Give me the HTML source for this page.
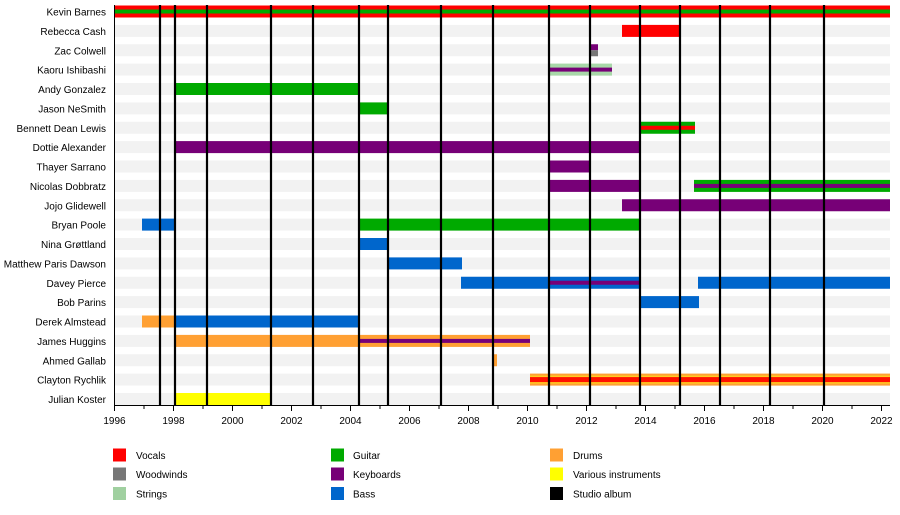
<!DOCTYPE html>
<html><head><meta charset="utf-8"><style>
html,body{margin:0;padding:0;background:#fff;}
svg{display:block;font-family:"Liberation Sans",sans-serif;font-size:10px;}
</style></head><body>
<svg width="900" height="515" viewBox="0 0 900 515" xmlns="http://www.w3.org/2000/svg">
<g fill="#f2f2f2">
<rect x="115" y="5.5" width="775" height="12"/><rect x="115" y="24.9" width="775" height="12"/><rect x="115" y="44.25" width="775" height="12"/><rect x="115" y="63.6" width="775" height="12"/><rect x="115" y="83" width="775" height="12"/><rect x="115" y="102.4" width="775" height="12"/><rect x="115" y="121.75" width="775" height="12"/><rect x="115" y="141.1" width="775" height="12"/><rect x="115" y="160.5" width="775" height="12"/><rect x="115" y="179.9" width="775" height="12"/><rect x="115" y="199.25" width="775" height="12"/><rect x="115" y="218.6" width="775" height="12"/><rect x="115" y="238" width="775" height="12"/><rect x="115" y="257.4" width="775" height="12"/><rect x="115" y="276.75" width="775" height="12"/><rect x="115" y="296.1" width="775" height="12"/><rect x="115" y="315.5" width="775" height="12"/><rect x="115" y="334.9" width="775" height="12"/><rect x="115" y="354.25" width="775" height="12"/><rect x="115" y="373.6" width="775" height="12"/><rect x="115" y="393" width="775" height="12"/>
</g>
<g text-anchor="end" fill="#000">
<text x="106" y="15.5">Kevin Barnes</text><text x="106" y="34.9">Rebecca Cash</text><text x="106" y="54.25">Zac Colwell</text><text x="106" y="73.6">Kaoru Ishibashi</text><text x="106" y="93">Andy Gonzalez</text><text x="106" y="112.4">Jason NeSmith</text><text x="106" y="131.75">Bennett Dean Lewis</text><text x="106" y="151.1">Dottie Alexander</text><text x="106" y="170.5">Thayer Sarrano</text><text x="106" y="189.9">Nicolas Dobbratz</text><text x="106" y="209.25">Jojo Glidewell</text><text x="106" y="228.6">Bryan Poole</text><text x="106" y="248">Nina Grøttland</text><text x="106" y="267.4">Matthew Paris Dawson</text><text x="106" y="286.75">Davey Pierce</text><text x="106" y="306.1">Bob Parins</text><text x="106" y="325.5">Derek Almstead</text><text x="106" y="344.9">James Huggins</text><text x="106" y="364.25">Ahmed Gallab</text><text x="106" y="383.6">Clayton Rychlik</text><text x="106" y="403">Julian Koster</text>
</g>
<rect x="115" y="5.5" width="775" height="12" fill="#ff0000"/><rect x="115" y="9.5" width="775" height="4" fill="#00aa00"/>
<rect x="622" y="24.9" width="58" height="12" fill="#ff0000"/>
<rect x="590" y="44.25" width="8" height="6" fill="#770077"/><rect x="590" y="50.25" width="8" height="6" fill="#777"/>
<rect x="549" y="63.6" width="63" height="12" fill="#a8d8a8"/><rect x="549" y="67.6" width="63" height="4" fill="#770077"/>
<rect x="175" y="83" width="183" height="12" fill="#00aa00"/>
<rect x="358" y="102.4" width="30" height="12" fill="#00aa00"/>
<rect x="640" y="121.75" width="55" height="12" fill="#00aa00"/><rect x="640" y="125.75" width="55" height="4" fill="#ff0000"/>
<rect x="175" y="141.1" width="465" height="12" fill="#770077"/>
<rect x="549" y="160.5" width="41" height="12" fill="#770077"/>
<rect x="549" y="179.9" width="91" height="12" fill="#770077"/>
<rect x="694" y="179.9" width="196" height="12" fill="#00aa00"/><rect x="694" y="183.9" width="196" height="4" fill="#770077"/>
<rect x="622" y="199.25" width="268" height="12" fill="#770077"/>
<rect x="142" y="218.6" width="33" height="12" fill="#0066cc"/><rect x="358" y="218.6" width="282" height="12" fill="#00aa00"/>
<rect x="358" y="238" width="30" height="12" fill="#0066cc"/>
<rect x="388" y="257.4" width="74" height="12" fill="#0066cc"/>
<rect x="461" y="276.75" width="179" height="12" fill="#0066cc"/><rect x="549" y="280.75" width="91" height="4" fill="#770077"/><rect x="698" y="276.75" width="192" height="12" fill="#0066cc"/>
<rect x="640" y="296.1" width="59" height="12" fill="#0066cc"/>
<rect x="142" y="315.5" width="33" height="12" fill="#ffa033"/><rect x="175" y="315.5" width="183" height="12" fill="#0066cc"/>
<rect x="175" y="334.9" width="355" height="12" fill="#ffa033"/><rect x="358" y="338.9" width="172" height="4" fill="#770077"/>
<rect x="493" y="354.25" width="4" height="12" fill="#ffa033"/>
<rect x="530" y="373.6" width="360" height="12" fill="#ffa033"/><rect x="530" y="375.6" width="360" height="8" fill="#ffcc22"/><rect x="530" y="377.1" width="360" height="5" fill="#ff1100"/>
<rect x="175" y="393" width="97" height="12" fill="#ffff00"/>
<g stroke="#000" stroke-width="2.2">
<line x1="160" y1="5" x2="160" y2="405"/><line x1="175" y1="5" x2="175" y2="405"/><line x1="207" y1="5" x2="207" y2="405"/><line x1="271" y1="5" x2="271" y2="405"/><line x1="313" y1="5" x2="313" y2="405"/><line x1="359" y1="5" x2="359" y2="405"/><line x1="388" y1="5" x2="388" y2="405"/><line x1="441" y1="5" x2="441" y2="405"/><line x1="493" y1="5" x2="493" y2="405"/><line x1="549" y1="5" x2="549" y2="405"/><line x1="590" y1="5" x2="590" y2="405"/><line x1="640" y1="5" x2="640" y2="405"/><line x1="680" y1="5" x2="680" y2="405"/><line x1="720" y1="5" x2="720" y2="405"/><line x1="770" y1="5" x2="770" y2="405"/><line x1="824" y1="5" x2="824" y2="405"/>
</g>
<g stroke="#000" stroke-width="1">
<line x1="114.5" y1="5" x2="114.5" y2="406"/><line x1="114" y1="405.5" x2="890" y2="405.5"/>
<line x1="114.5" y1="405" x2="114.5" y2="411"/><line x1="144" y1="405" x2="144" y2="409"/><line x1="173.5" y1="405" x2="173.5" y2="411"/><line x1="203" y1="405" x2="203" y2="409"/><line x1="232.5" y1="405" x2="232.5" y2="411"/><line x1="262" y1="405" x2="262" y2="409"/><line x1="291.5" y1="405" x2="291.5" y2="411"/><line x1="321" y1="405" x2="321" y2="409"/><line x1="350.5" y1="405" x2="350.5" y2="411"/><line x1="380" y1="405" x2="380" y2="409"/><line x1="409.5" y1="405" x2="409.5" y2="411"/><line x1="439" y1="405" x2="439" y2="409"/><line x1="468.5" y1="405" x2="468.5" y2="411"/><line x1="498" y1="405" x2="498" y2="409"/><line x1="527.5" y1="405" x2="527.5" y2="411"/><line x1="557" y1="405" x2="557" y2="409"/><line x1="586.5" y1="405" x2="586.5" y2="411"/><line x1="616" y1="405" x2="616" y2="409"/><line x1="645.5" y1="405" x2="645.5" y2="411"/><line x1="675" y1="405" x2="675" y2="409"/><line x1="704.5" y1="405" x2="704.5" y2="411"/><line x1="734" y1="405" x2="734" y2="409"/><line x1="763.5" y1="405" x2="763.5" y2="411"/><line x1="793" y1="405" x2="793" y2="409"/><line x1="822.5" y1="405" x2="822.5" y2="411"/><line x1="852" y1="405" x2="852" y2="409"/><line x1="881.5" y1="405" x2="881.5" y2="411"/>
</g>
<g text-anchor="middle">
<text x="114.5" y="424">1996</text><text x="173.5" y="424">1998</text><text x="232.5" y="424">2000</text><text x="291.5" y="424">2002</text><text x="350.5" y="424">2004</text><text x="409.5" y="424">2006</text><text x="468.5" y="424">2008</text><text x="527.5" y="424">2010</text><text x="586.5" y="424">2012</text><text x="645.5" y="424">2014</text><text x="704.5" y="424">2016</text><text x="763.5" y="424">2018</text><text x="822.5" y="424">2020</text><text x="881.5" y="424">2022</text>
</g>
<rect x="113" y="448.5" width="13" height="13" fill="#ff0000"/><text x="136" y="459">Vocals</text>
<rect x="113" y="467.5" width="13" height="13" fill="#777"/><text x="136" y="478">Woodwinds</text>
<rect x="113" y="487" width="13" height="13" fill="#a0d0a0"/><text x="136" y="497.5">Strings</text>
<rect x="331" y="448.5" width="13" height="13" fill="#00aa00"/><text x="353" y="459">Guitar</text>
<rect x="331" y="467.5" width="13" height="13" fill="#770077"/><text x="353" y="478">Keyboards</text>
<rect x="331" y="487" width="13" height="13" fill="#0066cc"/><text x="353" y="497.5">Bass</text>
<rect x="550" y="448.5" width="13" height="13" fill="#ffa033"/><text x="573" y="459">Drums</text>
<rect x="550" y="467.5" width="13" height="13" fill="#ffff00"/><text x="573" y="478">Various instruments</text>
<rect x="550" y="487" width="13" height="13" fill="#000"/><text x="573" y="497.5">Studio album</text>
</svg>
</body></html>
